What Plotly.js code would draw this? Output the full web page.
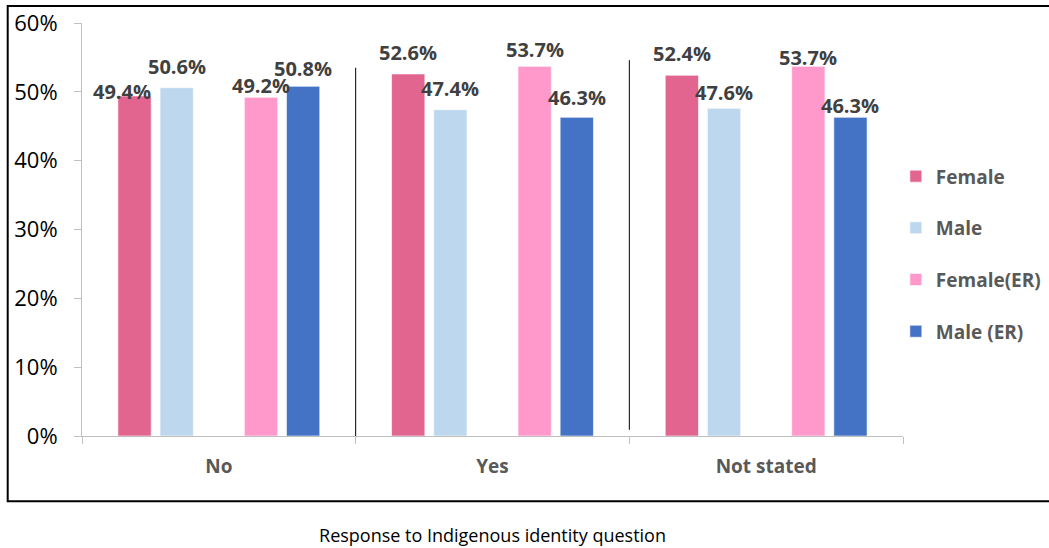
<!DOCTYPE html>
<html>
<head>
<meta charset="utf-8">
<script src="https://cdn.plot.ly/plotly-3.0.1.min.js"></script>
<style>html,body{margin:0;padding:0;background:#fff}#chart{width:1049px;height:548px}</style>
</head>
<body>
<div id="chart"></div>
<script>
// ---- data ----
const categories = ["No", "Yes", "Not stated"];
const female = [49.4, 52.6, 52.4];
const male = [50.6, 47.4, 47.6];
const femaleER = [49.2, 53.7, 53.7];
const maleER = [50.8, 46.3, 46.3];
const seriesNames = ["Female", "Male", "Female(ER)", "Male (ER)"];
const yTicks = [0, 10, 20, 30, 40, 50, 60];

// ---- styles ----
const seriesColors = ["#E2658F", "#BDD7EE", "#FF99CC", "#4472C4"];
// hand-placed label lift (px above bar top) and horizontal nudge, as in the original
const labelLift = [[-4, 13, 13], [13, 13, 7], [3, 8, 0], [9, 11, 3]];
const labelNudgeX = [[-13, 0, 0], [0, 0, 0], [0, 0, 0], [0, 0, 0]];
const BARGAP = 0.23, GROUPGAP = 0.21, NSLOTS = 5;
const slotOfSeries = [0, 1, 3, 4];

const labelFont = {family: "Open Sans", size: 20, color: "#404040", weight: "bold"};
const seriesVals = [female, male, femaleER, maleER];

function barTrace(name, vals, color, idx) {
  return {
    type: "bar", name: name, x: categories, y: vals,
    marker: {color: color, line: {color: "rgba(255,255,255,0.6)", width: 1}},
    hoverinfo: "skip", legendgroup: "g" + idx
  };
}
const traces = [
  barTrace(seriesNames[0], female, seriesColors[0], 0),
  barTrace(seriesNames[1], male, seriesColors[1], 1),
  {type: "bar", name: "", x: categories, y: [null, null, null], showlegend: false, hoverinfo: "skip"},
  barTrace(seriesNames[2], femaleER, seriesColors[2], 2),
  barTrace(seriesNames[3], maleER, seriesColors[3], 3)
];

const slotW = (1 - BARGAP) / NSLOTS;
const annotations = [];
seriesVals.forEach((vals, s) => {
  vals.forEach((v, i) => {
    annotations.push({
      xref: "x", yref: "y",
      x: i + (slotOfSeries[s] - (NSLOTS - 1) / 2) * slotW,
      y: v,
      text: v.toFixed(1) + "%",
      showarrow: false, font: labelFont,
      xanchor: "center", yanchor: "bottom",
      xshift: labelNudgeX[s][i], yshift: labelLift[s][i] - 7
    });
  });
});

const layout = {
  width: 1049, height: 548,
  margin: {l: 82, r: 146, t: 23, b: 112, autoexpand: false},
  paper_bgcolor: "#fff", plot_bgcolor: "#fff",
  barmode: "group", bargap: BARGAP, bargroupgap: GROUPGAP,
  font: {family: "Open Sans", color: "#000"},
  xaxis: {
    type: "category", tickson: "boundaries",
    showline: true, linecolor: "#BFBFBF", linewidth: 1,
    ticks: "outside", ticklen: 7, tickcolor: "#BFBFBF",
    tickfont: {family: "Open Sans", size: 19, color: "#595959", weight: "bold"},
    ticklabelstandoff: 13,
    showgrid: false, zeroline: false,
    title: {text: "Response to Indigenous identity question", font: {family: "Open Sans", size: 18, color: "#000"}, standoff: 51},
    automargin: false
  },
  yaxis: {
    range: [0, 60], tickvals: yTicks, ticktext: yTicks.map(v => v + "%"),
    showline: true, linecolor: "#BFBFBF", linewidth: 1,
    ticks: "outside", ticklen: 7, tickcolor: "#BFBFBF",
    tickfont: {family: "Open Sans", size: 22, color: "#000"},
    ticklabelstandoff: 12,
    showgrid: false, zeroline: false, automargin: false
  },
  legend: {
    xref: "container", yref: "container", x: 0.854, y: 0.713,
    xanchor: "left", yanchor: "top",
    traceorder: "grouped", tracegroupgap: 24,
    font: {family: "Open Sans", size: 19, color: "#595959", weight: "bold"},
    bgcolor: "rgba(0,0,0,0)"
  },
  annotations: annotations,
  shapes: [
    {type: "line", xref: "x", yref: "y", x0: 0.5, x1: 0.5, y0: 0, y1: 53.5, line: {color: "#000", width: 1}},
    {type: "line", xref: "x", yref: "y", x0: 1.5, x1: 1.5, y0: 0.9, y1: 54.6, line: {color: "#000", width: 1}},
    {type: "rect", xref: "paper", yref: "paper", x0: -0.0905, x1: 1.3, y0: -0.158, y1: 1.041, line: {color: "#000", width: 2}, fillcolor: "rgba(0,0,0,0)", layer: "below"}
  ]
};

Plotly.newPlot("chart", traces, layout, {displayModeBar: false, staticPlot: true});
</script>
</body>
</html>
